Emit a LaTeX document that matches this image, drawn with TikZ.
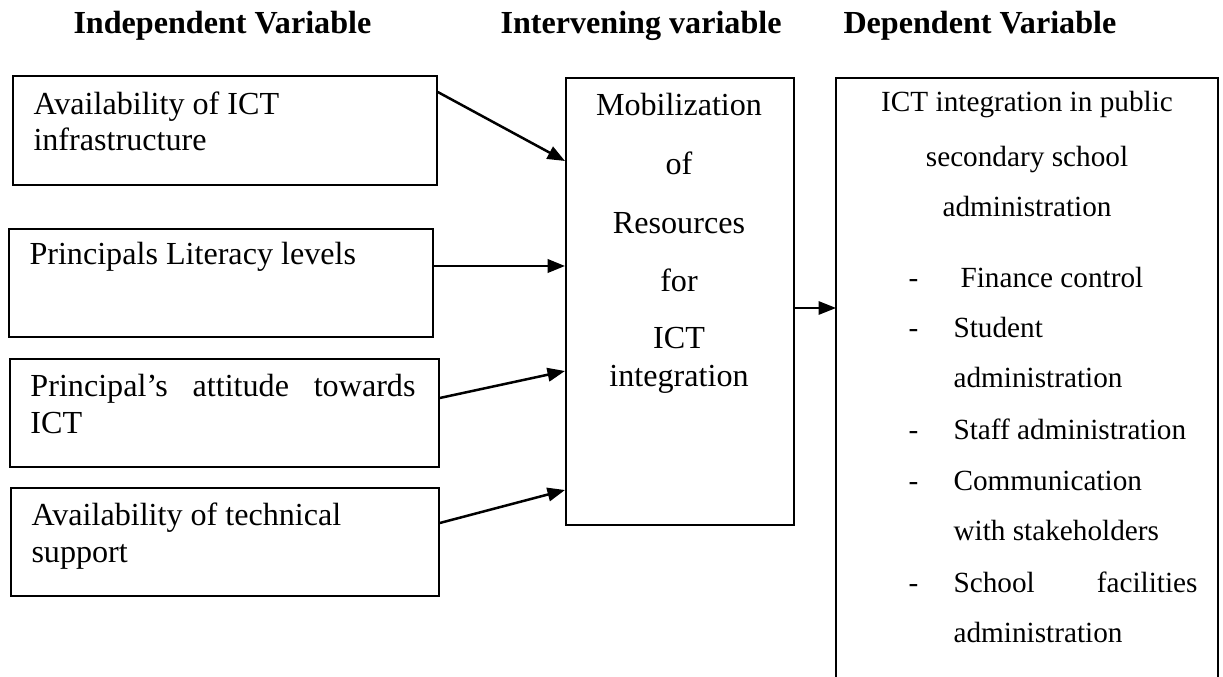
\documentclass[tikz,border=0pt]{standalone}
\usepackage{fontspec}
\setmainfont{Liberation Serif}
\usetikzlibrary{arrows.meta}
\begin{document}
\begin{tikzpicture}[x=0.4pt,y=-0.4pt,
  box/.style={draw, line width=0.7pt, inner sep=0pt, anchor=north west},
  txt/.style={inner sep=0pt, anchor=base west, font=\fontsize{12.85}{15}\selectfont},
  ctxt/.style={txt, anchor=base},
  rtxt/.style={inner sep=0pt, anchor=base west, font=\fontsize{11.7}{14}\selectfont},
  crtxt/.style={rtxt, anchor=base},
  head/.style={inner sep=0pt, anchor=base west, font=\fontsize{12.85}{15}\selectfont\bfseries},
  link/.style={line width=1pt, -{Triangle[length=7pt,width=5.4pt]}},
  thinlink/.style={line width=0.6pt, -{Triangle[length=7pt,width=5.4pt]}},
]
\useasboundingbox (0,0) rectangle (1223,677);
\clip (0,0) rectangle (1223,677);

% column headings
\node[head] (h1) at (73,34) {Independent Variable};
\node[head] (h2) at (500,34) {Intervening variable};
\node[head] (h3) at (843,34) {Dependent Variable};

% independent variables
\node[box, minimum width=169.6pt, minimum height=43.6pt] (iv1) at (12,75) {};
\node[txt] (iv1a) at (33,115) {Availability of ICT};
\node[txt] (iv1b) at (33,151) {infrastructure};

\node[box, minimum width=169.6pt, minimum height=43.2pt] (iv2) at (8,228) {};
\node[txt] (iv2a) at (29,265) {Principals Literacy levels};

\node[box, minimum width=171.6pt, minimum height=43.2pt] (iv3) at (9,358) {};
\node[txt] (iv3a) at (30,397) {\makebox[154pt][l]{Principal’s\hfill attitude\hfill towards}};
\node[txt] (iv3b) at (30,433) {ICT};

\node[box, minimum width=171.2pt, minimum height=43.2pt] (iv4) at (10,487) {};
\node[txt] (iv4a) at (31,525) {Availability of technical};
\node[txt] (iv4b) at (31,562) {support};

% intervening variable
\node[box, minimum width=91.2pt, minimum height=178.8pt] (med) at (565,77) {};
\node[ctxt] (m1) at (679,116) {Mobilization};
\node[ctxt] (m2) at (679,175) {of};
\node[ctxt] (m3) at (679,234) {Resources};
\node[ctxt] (m4) at (679,292) {for};
\node[ctxt] (m5) at (679,349) {ICT};
\node[ctxt] (m6) at (679,387) {integration};

% dependent variable (box runs past the lower edge)
\node[inner sep=0pt, anchor=north west, minimum width=152.4pt, minimum height=248.8pt] (dv) at (836,78) {};
\draw[line width=0.7pt] (dv.south west) -- (dv.north west) -- (dv.north east) -- (dv.south east);
\node[crtxt] (d1) at (1027,112) {ICT integration in public};
\node[crtxt] (d2) at (1027,167) {secondary school};
\node[crtxt] (d3) at (1027,217) {administration};

\node[rtxt] (k1) at (908,288) {-};
\node[rtxt] (k2) at (908,338) {-};
\node[rtxt] (k3) at (908,440) {-};
\node[rtxt] (k4) at (908,490) {-};
\node[rtxt] (k5) at (908,592) {-};

\node[rtxt] (e1) at (960,288) {Finance control};
\node[rtxt] (e2) at (953,338) {Student};
\node[rtxt] (e2b) at (953,388) {administration};
\node[rtxt] (e3) at (953,440) {Staff administration};
\node[rtxt] (e4) at (953,490) {Communication};
\node[rtxt] (e4b) at (953,540) {with stakeholders};
\node[rtxt] (e5) at (953,592) {\makebox[97.6pt][l]{School\hfill facilities}};
\node[rtxt] (e5b) at (953,642) {administration};

% connectors
\draw[link] (iv1.east |- 0,92) -- (med.west |- 0,161);
\draw[link] (iv2.east |- 0,266) -- (med.west |- 0,266);
\draw[link] (iv3.east |- 0,398) -- (med.west |- 0,371);
\draw[link] (iv4.east |- 0,523) -- (med.west |- 0,490);
\draw[thinlink] (med.east |- 0,308) -- (dv.west |- 0,308);
\end{tikzpicture}
\end{document}
